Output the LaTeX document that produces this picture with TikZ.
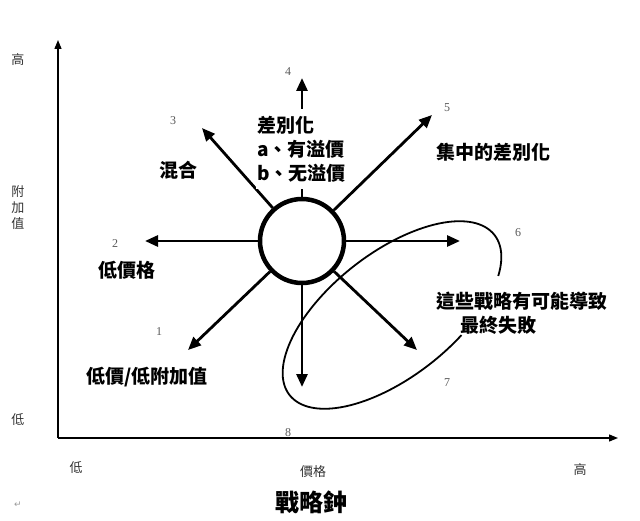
\documentclass[tikz,border=0pt]{standalone}
\usepackage{fontspec}
\setmainfont{Liberation Serif}
\newfontfamily\cjk{Noto Sans CJK TC}
\newfontfamily\symfont{DejaVu Sans}
\usetikzlibrary{arrows.meta}

\begin{document}
\begin{tikzpicture}[
    x=1pt, y=1pt,
    axis/.style={
        draw,
        line width=1.3pt,
        -{Triangle[length=9pt,width=7pt]}
    },
    strat/.style={
        draw,
        line width=2.8pt,
        -{Triangle[length=13pt,width=11pt]}
    },
    hub/.style={
        circle,
        draw,
        line width=4.5pt,
        minimum size=84pt,
        inner sep=0pt
    },
    num/.style={font=\fontsize{12}{12}\selectfont, text=black!65},
    tag/.style={font=\cjk\bfseries\fontsize{19}{24}\selectfont, align=left},
    axlabel/.style={font=\cjk\fontsize{13}{16}\selectfont, text=black!80, align=center}
]
\useasboundingbox (0,0) rectangle (640,520);

% Assi
\coordinate (o) at (58,82);
\coordinate (ytip) at (58,480);
\coordinate (xtip) at (618,82);
\draw[axis] (o) -- (ytip);
\draw[axis] (o) -- (xtip);

% Ellisse (strategie a rischio)
\begin{scope}[shift={(392,205)}, rotate=38]
\draw[line width=1.8pt] (-34:130 and 62) arc[start angle=-34, end angle=289, x radius=130, y radius=62];
\end{scope}

% Centro
\node[hub] (bell) at (302,279) {};

% Punte delle frecce
\coordinate (t1) at (188,170);
\coordinate (t2) at (145,279);
\coordinate (t3) at (202,392);
\coordinate (t4) at (302,442);
\coordinate (t5) at (432,405);
\coordinate (t6) at (460,279);
\coordinate (t7) at (417,170);
\coordinate (t8) at (302,133);

% Frecce
\draw[strat] (bell) -- (t1);
\draw[strat] (bell) -- (t2);
\draw[strat] (bell) -- (t3);
\draw[strat] (bell) -- (t4);
\draw[strat] (bell) -- (t5);
\draw[strat] (bell) -- (t6);
\draw[strat] (bell) -- (t7);
\draw[strat] (bell) -- (t8);

% Numeri
\node[num] (n1) at (159,188) {1};
\node[num] (n2) at (115,276) {2};
\node[num] (n3) at (173,399) {3};
\node[num] (n4) at (288,448) {4};
\node[num] (n5) at (447,412) {5};
\node[num] (n6) at (518,287) {6};
\node[num] (n7) at (447,137) {7};
\node[num] (n8) at (288,87) {8};

% Etichette strategie
\node[tag] (mix) at (178,350) {混合};
\node[tag] (lowprice) at (127,250) {低價格};
\node[tag] (lowlow) at (147,143) {低價/低附加值};
\node[tag] (focus) at (493,368) {集中的差別化};
\node[tag, fill=white, anchor=west, inner xsep=1pt, inner ysep=7pt] (diff) at (256,371) {差別化\\a、有溢價\\b、无溢價};
\node[tag] (fail) at (522,207) {這些戰略有可能導致\\\hspace{24pt}最終失敗};

% Etichette assi
\node[axlabel] (yhigh) at (18,460) {高};
\node[axlabel] (yname) at (18,312) {附\\加\\值};
\node[axlabel] (ylow) at (18,100) {低};
\node[axlabel] (xlow) at (76,52) {低};
\node[axlabel] (xname) at (313,48) {價格};
\node[axlabel] (xhigh) at (580,50) {高};

% Titolo
\node[font=\cjk\bfseries\fontsize{24}{24}\selectfont] (title) at (311,18) {戰略鈡};
\node[font=\symfont\fontsize{9}{9}\selectfont, text=black!40] (mark) at (18,15) {↵};

\end{tikzpicture}
\end{document}
